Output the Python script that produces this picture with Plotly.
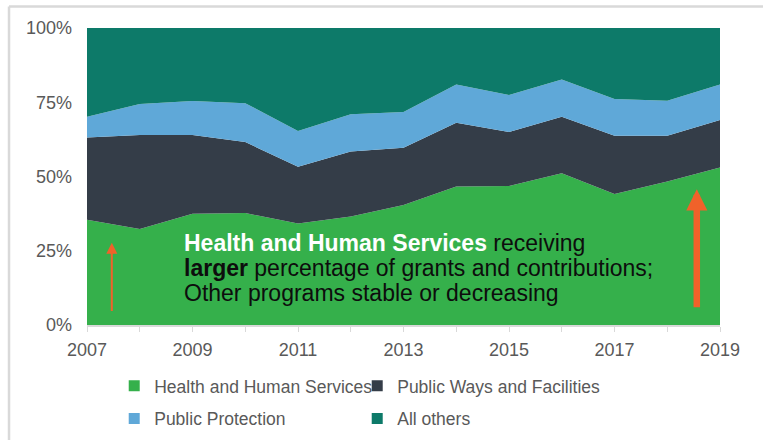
import plotly.graph_objects as go

# Share of grants and contributions by program (percent of total)
years = list(range(2007, 2020))
health_human = [35.4, 32.3, 37.5, 37.7, 34.2, 36.5, 40.4, 46.6, 46.8, 51.1, 44.1, 48.3, 53.0]
public_ways = [27.7, 31.7, 26.5, 23.9, 19.1, 21.9, 19.3, 21.5, 18.2, 19.0, 19.6, 15.4, 16.0]
public_protection = [7.0, 10.4, 11.4, 13.1, 12.0, 12.6, 12.0, 12.9, 12.4, 12.6, 12.4, 11.8, 12.0]
all_others = [29.9, 25.6, 24.6, 25.3, 34.7, 29.0, 28.3, 19.0, 22.6, 17.3, 23.9, 24.5, 19.0]

series_names = ["Health and Human Services", "Public Ways and Facilities",
                "Public Protection", "All others"]
series_values = [health_human, public_ways, public_protection, all_others]
series_colors = ["#35B04B", "#343D48", "#5FA8D8", "#0D7A69"]
# legend rows: first two entries on the top row, the rest below
legend_ids = ["legend", "legend", "legend2", "legend2"]

ORANGE = "#F0622A"
GRAY = "#595959"
LIGHT = "#D9D9D9"
FONT = "Liberation Sans, Arial, sans-serif"

fig = go.Figure()
for name, vals, color in zip(series_names, series_values, series_colors):
    fig.add_trace(go.Scatter(
        x=years, y=vals, name=name, stackgroup="share", mode="none",
        fillcolor=color, showlegend=False, hoverinfo="x+y+name",
    ))
for name, color, lg in zip(series_names, series_colors, legend_ids):
    # square swatch for the legend
    fig.add_trace(go.Scatter(
        x=[None], y=[None], name=name, mode="markers",
        marker=dict(symbol="square", size=11, color=color),
        showlegend=True, legend=lg,
    ))

# Border lines along the top and left edge of the canvas
fig.add_shape(type="line", xref="paper", yref="paper",
              x0=-0.1232, x1=1.07, y0=1.0724, y1=1.0724,
              line=dict(color=LIGHT, width=2.5))
fig.add_shape(type="line", xref="paper", yref="paper",
              x0=-0.1232, x1=-0.1232, y0=1.0724, y1=-0.40,
              line=dict(color=LIGHT, width=2.5))

# Trend arrows
fig.add_annotation(x=2007.47, y=27.7, ax=2007.47, ay=4.2,
                   xref="x", yref="y", axref="x", ayref="y",
                   text="", showarrow=True, arrowhead=2, arrowsize=1.1,
                   arrowwidth=2, arrowcolor=ORANGE)
fig.add_annotation(x=2018.56, y=45.7, ax=2018.56, ay=5.5,
                   xref="x", yref="y", axref="x", ayref="y",
                   text="", showarrow=True, arrowhead=2, arrowsize=0.65,
                   arrowwidth=6.5, arrowcolor=ORANGE)

# Callout text
callout_lines = [
    "<b><span style='color:#FFFFFF'>Health and Human Services</span></b> receiving",
    "<b>larger</b> percentage of grants and contributions;",
    "Other programs stable or decreasing",
]
for i, line in enumerate(callout_lines):
    fig.add_annotation(x=0.150, y=0.2777 - i * 0.0842, xref="paper", yref="paper",
                       text=line, showarrow=False, xanchor="left", yanchor="middle",
                       font=dict(family=FONT, size=23, color="#0D0D0D"))

legend_style = dict(orientation="h", xanchor="left", yanchor="top",
                    xref="paper", yref="container",
                    traceorder="normal", entrywidth=198, entrywidthmode="pixels",
                    font=dict(family=FONT, size=17.5, color=GRAY), itemwidth=30,
                    bgcolor="rgba(0,0,0,0)")

fig.update_layout(
    width=763, height=440,
    margin=dict(l=87, r=43, t=28, b=115, autoexpand=False),
    paper_bgcolor="white", plot_bgcolor="white",
    font=dict(family=FONT, color=GRAY, size=18),
    legend=dict(x=0.043, y=0.1637, **legend_style),
    legend2=dict(x=0.043, y=0.0894, **legend_style),
    xaxis=dict(range=[2007, 2019], tickmode="linear", tick0=2007, dtick=2,
               showgrid=False, zeroline=False, showline=True, linecolor=LIGHT,
               linewidth=1.5, ticks="outside", ticklen=5, tickcolor=LIGHT,
               tickfont=dict(family=FONT, size=18, color=GRAY),
               ticklabelstandoff=3,
               minor=dict(dtick=1, tick0=2007, ticks="outside", ticklen=5,
                          tickcolor=LIGHT, showgrid=False)),
    yaxis=dict(range=[0, 100], tickmode="linear", tick0=0, dtick=25,
               ticksuffix="%", showgrid=False, zeroline=False, showline=False,
               tickfont=dict(family=FONT, size=18, color=GRAY),
               ticklabelstandoff=14),
)

fig.write_html("out.html")
